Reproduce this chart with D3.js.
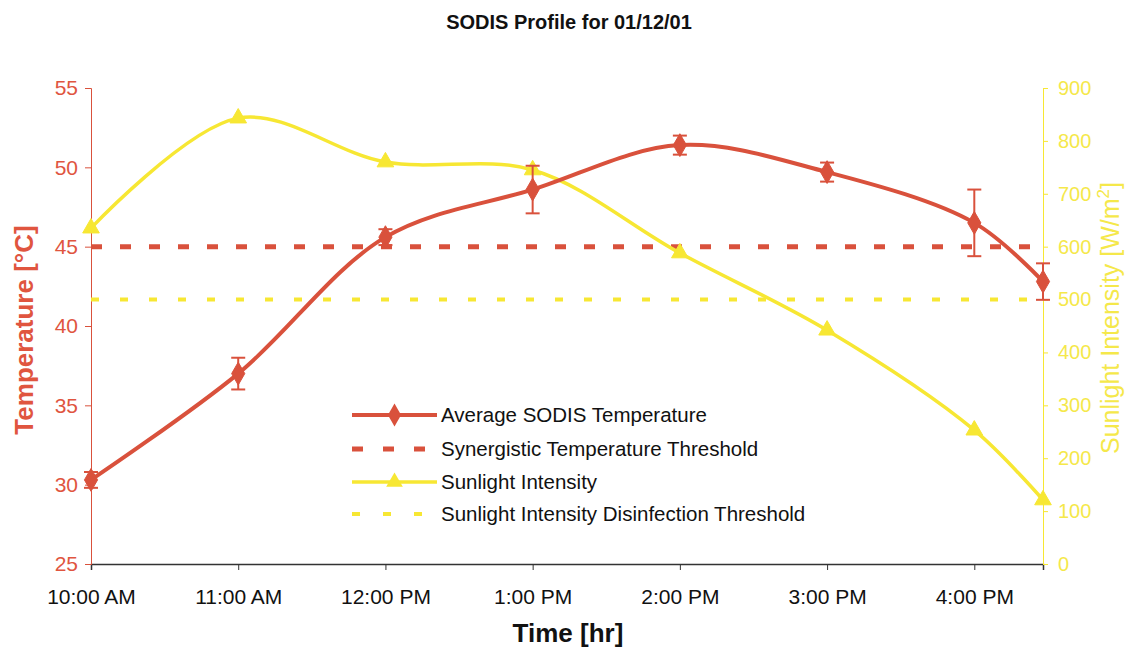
<!DOCTYPE html>
<html>
<head>
<meta charset="utf-8">
<script src="https://cdn.jsdelivr.net/npm/d3@7"></script>
<style>
  html, body { margin: 0; padding: 0; background: #fff; }
  svg { display: block; font-family: "Liberation Sans", Arial, sans-serif; }
</style>
</head>
<body>
<svg id="chart" width="1130" height="647"></svg>
<script>
// Measurement times (24h clock) and readings
const times = ["10:00", "11:00", "12:00", "13:00", "14:00", "15:00", "16:00", "16:28"];
const avgTemp = [30.3, 37.0, 45.6, 48.6, 51.4, 49.7, 46.5, 42.8];
const tempErr = [0.5, 1.0, 0.5, 1.5, 0.6, 0.6, 2.1, 1.15];
const sunlight = [635, 843, 760, 745, 588, 442, 253, 121];
const tempThreshold = 45;
const sunThreshold = 500;

const tickTimes = ["10:00", "11:00", "12:00", "13:00", "14:00", "15:00", "16:00"];
const tickLabels = ["10:00 AM", "11:00 AM", "12:00 PM", "1:00 PM", "2:00 PM", "3:00 PM", "4:00 PM"];
const tempTicks = [25, 30, 35, 40, 45, 50, 55];
const sunTicks = [0, 100, 200, 300, 400, 500, 600, 700, 800, 900];
const legendItems = [
  "Average SODIS Temperature",
  "Synergistic Temperature Threshold",
  "Sunlight Intensity",
  "Sunlight Intensity Disinfection Threshold"
];

const RED = "#d9513c";
const RED_TEXT = "#e0553f";
const YELLOW = "#f7e733";
const YELLOW_TEXT = "#f5e84a";

const toHours = s => { const [h, m] = s.split(":").map(Number); return h + m / 60; };

const svg = d3.select("#chart");
const plotL = 91, plotR = 1043, plotT = 88, plotB = 564;

const x = d3.scaleLinear().domain([toHours(times[0]), toHours(times[times.length - 1])]).range([plotL, plotR]);
const yT = d3.scaleLinear().domain([25, 55]).range([plotB, plotT]);
const yS = d3.scaleLinear().domain([0, 900]).range([plotB, plotT]);

// Title
svg.append("text").attr("x", 569).attr("y", 29).attr("text-anchor", "middle")
  .attr("font-size", 20).attr("font-weight", "bold").attr("fill", "#111")
  .text("SODIS Profile for 01/12/01");

// Axes
const xAxis = svg.append("g").attr("transform", `translate(0,${plotB})`)
  .call(d3.axisBottom(x).tickValues(tickTimes.map(toHours))
    .tickFormat((d, i) => tickLabels[i]).tickSizeOuter(0).tickSize(6).tickPadding(19));
xAxis.select(".domain").attr("stroke", "#333").attr("stroke-width", 1.5);
xAxis.selectAll(".tick line").attr("stroke", "#333");
xAxis.selectAll("text").attr("font-size", 21).attr("fill", "#111");

const lAxis = svg.append("g").attr("transform", `translate(${plotL},0)`)
  .call(d3.axisLeft(yT).tickValues(tempTicks).tickSizeOuter(0).tickSize(6).tickPadding(7));
lAxis.select(".domain").attr("stroke", RED).attr("stroke-width", 1);
lAxis.selectAll(".tick line").attr("stroke", RED);
lAxis.selectAll("text").attr("font-size", 21).attr("fill", RED_TEXT);

const rAxis = svg.append("g").attr("transform", `translate(${plotR},0)`)
  .call(d3.axisRight(yS).tickValues(sunTicks).tickSizeOuter(0).tickSize(5).tickPadding(10));
rAxis.select(".domain").attr("stroke", YELLOW).attr("stroke-width", 1);
rAxis.selectAll(".tick line").attr("stroke", YELLOW);
rAxis.selectAll("text").attr("font-size", 20).attr("fill", YELLOW_TEXT);

// Axis titles
svg.append("text").attr("transform", "translate(33,330) rotate(-90)").attr("text-anchor", "middle")
  .attr("font-size", 26).attr("font-weight", "bold").attr("fill", RED_TEXT).text("Temperature [°C]");
const rTitle = svg.append("text").attr("transform", "translate(1119,318) rotate(-90)").attr("text-anchor", "middle")
  .attr("font-size", 25).attr("fill", YELLOW_TEXT);
rTitle.append("tspan").text("Sunlight Intensity [W/m");
rTitle.append("tspan").attr("dy", -10).attr("font-size", 17).text("2");
rTitle.append("tspan").attr("dy", 10).text("]");
svg.append("text").attr("x", 568).attr("y", 642).attr("text-anchor", "middle")
  .attr("font-size", 26).attr("font-weight", "bold").attr("fill", "#111").text("Time [hr]");

// Threshold lines
svg.append("line").attr("x1", plotL).attr("x2", plotR).attr("y1", yT(tempThreshold)).attr("y2", yT(tempThreshold))
  .attr("stroke", RED).attr("stroke-width", 5).attr("stroke-dasharray", "11,18");
svg.append("line").attr("x1", plotL).attr("x2", plotR).attr("y1", yS(sunThreshold)).attr("y2", yS(sunThreshold))
  .attr("stroke", YELLOW).attr("stroke-width", 4).attr("stroke-dasharray", "8,21");

const tempData = times.map((t, i) => ({ t: toHours(t), v: avgTemp[i], e: tempErr[i] }));
const sunData = times.map((t, i) => ({ t: toHours(t), v: sunlight[i] }));

const curve = d3.curveCatmullRom.alpha(0.5);

// Sunlight series
svg.append("path").datum(sunData)
  .attr("d", d3.line().x(d => x(d.t)).y(d => yS(d.v)).curve(curve))
  .attr("fill", "none").attr("stroke", YELLOW).attr("stroke-width", 3.5);
const triangle = d3.symbol().type(d3.symbolTriangle).size(120);
svg.selectAll(".sun-pt").data(sunData).join("path").attr("class", "sun-pt")
  .attr("d", triangle).attr("transform", d => `translate(${x(d.t)},${yS(d.v)})`)
  .attr("fill", YELLOW).attr("stroke", YELLOW).attr("stroke-width", 1);

// Temperature series with error bars
svg.append("path").datum(tempData)
  .attr("d", d3.line().x(d => x(d.t)).y(d => yT(d.v)).curve(curve))
  .attr("fill", "none").attr("stroke", RED).attr("stroke-width", 4);
const eb = svg.selectAll(".err").data(tempData).join("g").attr("class", "err")
  .attr("stroke", RED).attr("stroke-width", 2);
eb.append("line").attr("x1", d => x(d.t)).attr("x2", d => x(d.t))
  .attr("y1", d => yT(d.v + d.e)).attr("y2", d => yT(d.v - d.e));
eb.append("line").attr("x1", d => x(d.t) - 7).attr("x2", d => x(d.t) + 7)
  .attr("y1", d => yT(d.v + d.e)).attr("y2", d => yT(d.v + d.e));
eb.append("line").attr("x1", d => x(d.t) - 7).attr("x2", d => x(d.t) + 7)
  .attr("y1", d => yT(d.v - d.e)).attr("y2", d => yT(d.v - d.e));
const diamond = d3.symbol().type(d3.symbolDiamond).size(150);
svg.selectAll(".temp-pt").data(tempData).join("path").attr("class", "temp-pt")
  .attr("d", diamond).attr("transform", d => `translate(${x(d.t)},${yT(d.v)})`)
  .attr("fill", RED).attr("stroke", RED).attr("stroke-width", 1);

// Legend
const lg = svg.append("g");
const lx0 = 352, lx1 = 437, ltx = 441;
const rowsY = [415, 449, 482, 514];
legendItems.forEach((label, i) => {
  const y = rowsY[i];
  const color = i < 2 ? RED : YELLOW;
  const dashed = i % 2 === 1;
  lg.append("line").attr("x1", lx0).attr("x2", lx1).attr("y1", y).attr("y2", y)
    .attr("stroke", color).attr("stroke-width", i === 0 ? 4 : i === 1 ? 5 : i === 2 ? 3.5 : 4)
    .attr("stroke-dasharray", dashed ? (i === 1 ? "11,20" : "8,23") : null);
  if (i === 0) lg.append("path").attr("d", diamond).attr("transform", `translate(${(lx0 + lx1) / 2},${y})`).attr("fill", RED);
  if (i === 2) lg.append("path").attr("d", triangle).attr("transform", `translate(${(lx0 + lx1) / 2},${y})`).attr("fill", YELLOW);
  lg.append("text").attr("x", ltx).attr("y", y).attr("dy", "0.35em")
    .attr("font-size", 20.5).attr("fill", "#111").text(label);
});
</script>
</body>
</html>
